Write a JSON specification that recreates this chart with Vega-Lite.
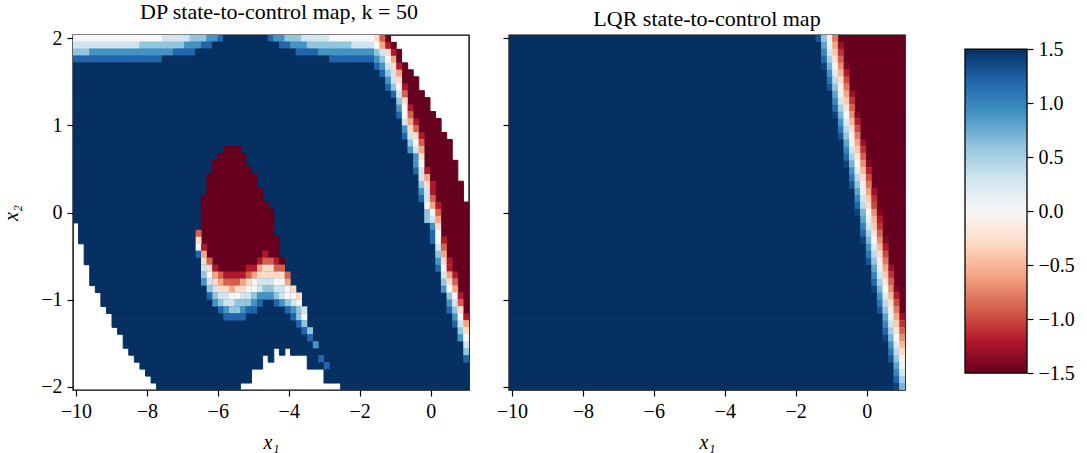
{"$schema":"https://vega.github.io/schema/vega-lite/v6.json","background":"white","padding":{"left":1,"top":0,"right":0,"bottom":0},
"config":{"font":"Liberation Serif","view":{"stroke":"#000","strokeWidth":1.4},"axis":{"grid":false,"domain":false,"tickColor":"#000","tickSize":6,"tickWidth":1.2,"labelColor":"#000","labelFont":"Liberation Serif","labelFontSize":20,"titleFont":"Liberation Serif","titleFontSize":20,"titleFontWeight":"normal","titleFontStyle":"italic","titleColor":"#000","labelPadding":5},"title":{"font":"Liberation Serif","fontSize":22,"fontWeight":"normal","color":"#000","offset":4}},
"datasets":{
"dpSpans":[
{"x":-10.079,"x2":-7.564,"y":2.04,"y2":1.96,"u":0},{"x":-7.564,"x2":-6.779,"y":2.04,"y2":1.96,"u":0.3},{"x":-6.779,"x2":-6.307,"y":2.04,"y2":1.96,"u":0.6},{"x":-6.307,"x2":-5.993,"y":2.04,"y2":1.96,"u":0.9},{"x":-5.993,"x2":-5.836,"y":2.04,"y2":1.96,"u":1.2},{"x":-5.836,"x2":-4.579,"y":2.04,"y2":1.96,"u":1.5},{"x":-4.579,"x2":-4.421,"y":2.04,"y2":1.96,"u":1.2},{"x":-4.421,"x2":-4.107,"y":2.04,"y2":1.96,"u":0.9},{"x":-4.107,"x2":-3.636,"y":2.04,"y2":1.96,"u":0.6},{"x":-3.636,"x2":-2.85,"y":2.04,"y2":1.96,"u":0.3},{"x":-2.85,"x2":-1.593,"y":2.04,"y2":1.96,"u":0},
{"x":-10.079,"x2":-8.193,"y":1.96,"y2":1.88,"u":0.3},{"x":-8.193,"x2":-6.936,"y":1.96,"y2":1.88,"u":0.6},{"x":-6.936,"x2":-6.464,"y":1.96,"y2":1.88,"u":0.9},{"x":-6.464,"x2":-6.15,"y":1.96,"y2":1.88,"u":1.2},{"x":-6.15,"x2":-4.264,"y":1.96,"y2":1.88,"u":1.5},{"x":-4.264,"x2":-3.95,"y":1.96,"y2":1.88,"u":1.2},{"x":-3.95,"x2":-3.479,"y":1.96,"y2":1.88,"u":0.9},{"x":-3.479,"x2":-2.221,"y":1.96,"y2":1.88,"u":0.6},{"x":-2.221,"x2":-1.593,"y":1.96,"y2":1.88,"u":0.3},
{"x":-10.079,"x2":-9.607,"y":1.88,"y2":1.8,"u":0.6},{"x":-9.607,"x2":-7.25,"y":1.88,"y2":1.8,"u":0.9},{"x":-7.25,"x2":-6.621,"y":1.88,"y2":1.8,"u":1.2},{"x":-6.621,"x2":-3.793,"y":1.88,"y2":1.8,"u":1.5},{"x":-3.793,"x2":-3.164,"y":1.88,"y2":1.8,"u":1.2},{"x":-3.164,"x2":-1.593,"y":1.88,"y2":1.8,"u":0.9},
{"x":-10.079,"x2":-7.564,"y":1.8,"y2":1.72,"u":1.2},{"x":-7.564,"x2":-2.85,"y":1.8,"y2":1.72,"u":1.5},{"x":-2.85,"x2":-1.593,"y":1.8,"y2":1.72,"u":1.2},
{"x":-10.079,"x2":-1.593,"y":1.72,"y2":1.64,"u":1.5},{"x":-10.079,"x2":-1.436,"y":1.64,"y2":1.56,"u":1.5},{"x":-10.079,"x2":-1.279,"y":1.56,"y2":1.4,"u":1.5},{"x":-10.079,"x2":-1.121,"y":1.4,"y2":1.32,"u":1.5},{"x":-10.079,"x2":-0.964,"y":1.32,"y2":1.08,"u":1.5},{"x":-10.079,"x2":-0.807,"y":1.08,"y2":0.84,"u":1.5},{"x":-10.079,"x2":-0.65,"y":0.84,"y2":0.68,"u":1.5},{"x":-10.079,"x2":-0.493,"y":0.68,"y2":0.44,"u":1.5},{"x":-10.079,"x2":-0.336,"y":0.44,"y2":0.12,"u":1.5},{"x":-10.079,"x2":-0.179,"y":0.12,"y2":-0.12,"u":1.5},{"x":-9.921,"x2":-0.021,"y":-0.12,"y2":-0.36,"u":1.5},{"x":-9.764,"x2":0.136,"y":-0.36,"y2":-0.6,"u":1.5},{"x":-9.607,"x2":0.136,"y":-0.6,"y2":-0.68,"u":1.5},{"x":-9.607,"x2":0.293,"y":-0.68,"y2":-0.84,"u":1.5},{"x":-9.45,"x2":0.293,"y":-0.84,"y2":-0.92,"u":1.5},{"x":-9.293,"x2":0.45,"y":-0.92,"y2":-1.08,"u":1.5},{"x":-9.136,"x2":0.45,"y":-1.08,"y2":-1.16,"u":1.5},{"x":-8.979,"x2":0.607,"y":-1.16,"y2":-1.32,"u":1.5},{"x":-8.821,"x2":0.764,"y":-1.32,"y2":-1.4,"u":1.5},{"x":-8.664,"x2":0.764,"y":-1.4,"y2":-1.48,"u":1.5},{"x":-8.664,"x2":0.921,"y":-1.48,"y2":-1.56,"u":1.5},
{"x":-8.507,"x2":-4.421,"y":-1.56,"y2":-1.64,"u":1.5},{"x":-4.264,"x2":-4.107,"y":-1.56,"y2":-1.64,"u":1.5},{"x":-3.95,"x2":0.921,"y":-1.56,"y2":-1.64,"u":1.5},
{"x":-8.35,"x2":-4.736,"y":-1.64,"y2":-1.72,"u":1.5},{"x":-4.579,"x2":-4.421,"y":-1.64,"y2":-1.72,"u":1.5},{"x":-3.479,"x2":0.921,"y":-1.64,"y2":-1.72,"u":1.5},
{"x":-8.193,"x2":-4.736,"y":-1.72,"y2":-1.8,"u":1.5},{"x":-3.479,"x2":1.079,"y":-1.72,"y2":-1.8,"u":1.5},
{"x":-8.036,"x2":-5.05,"y":-1.8,"y2":-1.88,"u":1.5},{"x":-3.007,"x2":1.079,"y":-1.8,"y2":-1.88,"u":1.5},
{"x":-7.879,"x2":-5.05,"y":-1.88,"y2":-1.96,"u":1.5},{"x":-3.007,"x2":1.079,"y":-1.88,"y2":-1.96,"u":1.5},
{"x":-7.721,"x2":-5.364,"y":-1.96,"y2":-2.04,"u":1.5},{"x":-2.536,"x2":1.079,"y":-1.96,"y2":-2.04,"u":1.5},
{"x":-0.807,"x2":-0.65,"y":1.72,"y2":1.64,"u":-1.5},{"x":-0.807,"x2":-0.493,"y":1.64,"y2":1.56,"u":-1.5},{"x":-0.807,"x2":-0.336,"y":1.56,"y2":1.48,"u":-1.5},{"x":-0.65,"x2":-0.336,"y":1.48,"y2":1.4,"u":-1.5},{"x":-0.65,"x2":-0.179,"y":1.4,"y2":1.32,"u":-1.5},{"x":-0.65,"x2":-0.021,"y":1.32,"y2":1.24,"u":-1.5},{"x":-0.493,"x2":-0.021,"y":1.24,"y2":1.16,"u":-1.5},{"x":-0.493,"x2":0.136,"y":1.16,"y2":1.08,"u":-1.5},{"x":-0.336,"x2":0.293,"y":1.08,"y2":0.92,"u":-1.5},{"x":-0.179,"x2":0.45,"y":0.92,"y2":0.84,"u":-1.5},{"x":-0.179,"x2":0.607,"y":0.84,"y2":0.6,"u":-1.5},{"x":-0.179,"x2":0.764,"y":0.6,"y2":0.52,"u":-1.5},{"x":-0.021,"x2":0.764,"y":0.52,"y2":0.36,"u":-1.5},{"x":0.136,"x2":0.921,"y":0.36,"y2":0.12,"u":-1.5},{"x":0.293,"x2":1.079,"y":0.12,"y2":-0.28,"u":-1.5},{"x":0.45,"x2":1.079,"y":-0.28,"y2":-0.52,"u":-1.5},{"x":0.607,"x2":1.079,"y":-0.52,"y2":-0.68,"u":-1.5},{"x":0.764,"x2":1.079,"y":-0.68,"y2":-0.92,"u":-1.5},{"x":0.921,"x2":1.079,"y":-0.92,"y2":-1.16,"u":-1.5},
{"x":-5.836,"x2":-5.364,"y":0.76,"y2":0.68,"u":-1.5},{"x":-5.993,"x2":-5.207,"y":0.68,"y2":0.6,"u":-1.5},{"x":-6.15,"x2":-5.207,"y":0.6,"y2":0.52,"u":-1.5},{"x":-6.15,"x2":-5.05,"y":0.52,"y2":0.44,"u":-1.5},{"x":-6.307,"x2":-4.893,"y":0.44,"y2":0.28,"u":-1.5},{"x":-6.307,"x2":-4.736,"y":0.28,"y2":0.2,"u":-1.5},{"x":-6.464,"x2":-4.736,"y":0.2,"y2":0.12,"u":-1.5},{"x":-6.464,"x2":-4.579,"y":0.12,"y2":0.04,"u":-1.5},{"x":-6.464,"x2":-4.421,"y":0.04,"y2":-0.28,"u":-1.5},{"x":-6.464,"x2":-4.264,"y":-0.28,"y2":-0.36,"u":-1.5},{"x":-6.307,"x2":-4.264,"y":-0.36,"y2":-0.52,"u":-1.5},{"x":-6.15,"x2":-4.893,"y":-0.52,"y2":-0.6,"u":-1.5},{"x":-5.993,"x2":-5.207,"y":-0.6,"y2":-0.68,"u":-1.5}
],
"dpCells":[
{"x":-1.51,"y":2,"u":-0.3},{"x":-1.36,"y":2,"u":-0.9},{"x":-1.2,"y":2,"u":-1.5},
{"x":-1.51,"y":1.92,"u":0},{"x":-1.36,"y":1.92,"u":-0.6},{"x":-1.2,"y":1.92,"u":-1.2},{"x":-1.04,"y":1.92,"u":-1.5},
{"x":-1.51,"y":1.84,"u":0.6},{"x":-1.36,"y":1.84,"u":0.3},{"x":-1.2,"y":1.84,"u":-0.3},{"x":-1.04,"y":1.84,"u":-1.2},{"x":-0.89,"y":1.84,"u":-1.5},
{"x":-1.51,"y":1.76,"u":0.9},{"x":-1.36,"y":1.76,"u":0.6},{"x":-1.2,"y":1.76,"u":0},{"x":-1.04,"y":1.76,"u":-0.6},{"x":-0.89,"y":1.76,"u":-1.5},
{"x":-1.51,"y":1.68,"u":1.2},{"x":-1.36,"y":1.68,"u":0.9},{"x":-1.2,"y":1.68,"u":0.3},{"x":-1.04,"y":1.68,"u":-0.3},{"x":-0.89,"y":1.68,"u":-1.2},
{"x":-1.36,"y":1.6,"u":1.2},{"x":-1.2,"y":1.6,"u":0.6},{"x":-1.04,"y":1.6,"u":0.3},{"x":-0.89,"y":1.6,"u":-0.6},
{"x":-1.2,"y":1.52,"u":0.9},{"x":-1.04,"y":1.52,"u":0.3},{"x":-0.89,"y":1.52,"u":-0.3},
{"x":-1.2,"y":1.44,"u":1.2},{"x":-1.04,"y":1.44,"u":0.6},{"x":-0.89,"y":1.44,"u":0},{"x":-0.73,"y":1.44,"u":-1.2},
{"x":-1.04,"y":1.36,"u":1.2},{"x":-0.89,"y":1.36,"u":0.3},{"x":-0.73,"y":1.36,"u":-0.9},
{"x":-0.89,"y":1.28,"u":0.6},{"x":-0.73,"y":1.28,"u":-0.3},
{"x":-0.89,"y":1.2,"u":0.9},{"x":-0.73,"y":1.2,"u":0},{"x":-0.57,"y":1.2,"u":-1.2},
{"x":-0.89,"y":1.12,"u":1.2},{"x":-0.73,"y":1.12,"u":0},{"x":-0.57,"y":1.12,"u":-0.9},
{"x":-0.73,"y":1.04,"u":0.3},{"x":-0.57,"y":1.04,"u":-0.6},{"x":-0.41,"y":1.04,"u":-1.2},
{"x":-0.73,"y":0.96,"u":0.9},{"x":-0.57,"y":0.96,"u":-0.3},{"x":-0.41,"y":0.96,"u":-0.9},
{"x":-0.73,"y":0.88,"u":1.2},{"x":-0.57,"y":0.88,"u":0.3},{"x":-0.41,"y":0.88,"u":-0.3},{"x":-0.26,"y":0.88,"u":-1.2},
{"x":-0.57,"y":0.8,"u":0.6},{"x":-0.41,"y":0.8,"u":0},{"x":-0.26,"y":0.8,"u":-0.9},
{"x":-0.57,"y":0.72,"u":0.9},{"x":-0.41,"y":0.72,"u":0.3},{"x":-0.26,"y":0.72,"u":-0.6},
{"x":-0.41,"y":0.64,"u":0.9},{"x":-0.26,"y":0.64,"u":-0.3},
{"x":-0.41,"y":0.56,"u":0.9},{"x":-0.26,"y":0.56,"u":0},
{"x":-0.41,"y":0.48,"u":1.2},{"x":-0.26,"y":0.48,"u":0.3},{"x":-0.1,"y":0.48,"u":-1.2},
{"x":-0.26,"y":0.4,"u":0.3},{"x":-0.1,"y":0.4,"u":-0.6},
{"x":-0.26,"y":0.32,"u":0.6},{"x":-0.1,"y":0.32,"u":-0.3},{"x":0.06,"y":0.32,"u":-1.2},
{"x":-0.26,"y":0.24,"u":0.9},{"x":-0.1,"y":0.24,"u":0.3},{"x":0.06,"y":0.24,"u":-1.2},
{"x":-0.26,"y":0.16,"u":1.2},{"x":-0.1,"y":0.16,"u":0.3},{"x":0.06,"y":0.16,"u":-0.9},
{"x":-0.1,"y":0.08,"u":0},{"x":0.06,"y":0.08,"u":-0.6},{"x":0.21,"y":0.08,"u":-1.2},
{"x":-0.1,"y":0,"u":0.6},{"x":0.06,"y":0,"u":0},{"x":0.21,"y":0,"u":-0.9},
{"x":-0.1,"y":-0.08,"u":0.6},{"x":0.06,"y":-0.08,"u":0.3},{"x":0.21,"y":-0.08,"u":-0.6},
{"x":0.06,"y":-0.16,"u":0.9},{"x":0.21,"y":-0.16,"u":-0.3},
{"x":0.06,"y":-0.24,"u":1.2},{"x":0.21,"y":-0.24,"u":0},
{"x":0.06,"y":-0.32,"u":1.2},{"x":0.21,"y":-0.32,"u":0},{"x":0.37,"y":-0.32,"u":-1.2},
{"x":0.21,"y":-0.4,"u":0.3},{"x":0.37,"y":-0.4,"u":-0.9},
{"x":0.21,"y":-0.48,"u":0.6},{"x":0.37,"y":-0.48,"u":-0.6},
{"x":0.21,"y":-0.56,"u":0.9},{"x":0.37,"y":-0.56,"u":-0.3},{"x":0.53,"y":-0.56,"u":-1.2},
{"x":0.21,"y":-0.64,"u":1.2},{"x":0.37,"y":-0.64,"u":0},{"x":0.53,"y":-0.64,"u":-1.2},
{"x":0.37,"y":-0.72,"u":0.3},{"x":0.53,"y":-0.72,"u":-0.6},{"x":0.69,"y":-0.72,"u":-1.2},
{"x":0.37,"y":-0.8,"u":0.6},{"x":0.53,"y":-0.8,"u":-0.3},{"x":0.69,"y":-0.8,"u":-0.9},
{"x":0.37,"y":-0.88,"u":0.9},{"x":0.53,"y":-0.88,"u":0},{"x":0.69,"y":-0.88,"u":-0.6},
{"x":0.53,"y":-0.96,"u":0.6},{"x":0.69,"y":-0.96,"u":0},{"x":0.84,"y":-0.96,"u":-1.2},
{"x":0.53,"y":-1.04,"u":0.9},{"x":0.69,"y":-1.04,"u":0.3},{"x":0.84,"y":-1.04,"u":-0.9},
{"x":0.53,"y":-1.12,"u":1.2},{"x":0.69,"y":-1.12,"u":0.6},{"x":0.84,"y":-1.12,"u":-0.3},
{"x":0.69,"y":-1.2,"u":0.9},{"x":0.84,"y":-1.2,"u":0},{"x":1,"y":-1.2,"u":-1.2},
{"x":0.69,"y":-1.28,"u":1.2},{"x":0.84,"y":-1.28,"u":0.3},{"x":1,"y":-1.28,"u":-0.6},
{"x":0.84,"y":-1.36,"u":0.6},{"x":1,"y":-1.36,"u":-0.3},
{"x":0.84,"y":-1.44,"u":0.9},{"x":1,"y":-1.44,"u":0},
{"x":1,"y":-1.52,"u":0.3},{"x":1,"y":-1.6,"u":0.6},{"x":1,"y":-1.68,"u":1.2},
{"x":-6.54,"y":-0.24,"u":-0.9},{"x":-6.54,"y":-0.32,"u":-0.3},{"x":-6.54,"y":-0.4,"u":0},{"x":-6.39,"y":-0.4,"u":-1.2},
{"x":-6.54,"y":-0.48,"u":1.2},{"x":-6.39,"y":-0.48,"u":-0.6},{"x":-4.66,"y":-0.48,"u":-1.2},
{"x":-6.39,"y":-0.56,"u":-0.3},{"x":-6.23,"y":-0.56,"u":-0.9},{"x":-4.81,"y":-0.56,"u":-1.2},{"x":-4.66,"y":-0.56,"u":-0.9},{"x":-4.5,"y":-0.56,"u":-0.9},{"x":-4.34,"y":-0.56,"u":-1.2},{"x":-4.19,"y":-0.56,"u":-1.5},
{"x":-6.39,"y":-0.64,"u":0.3},{"x":-6.23,"y":-0.64,"u":-0.3},{"x":-6.07,"y":-0.64,"u":-1.2},{"x":-5.13,"y":-0.64,"u":-1.2},{"x":-4.97,"y":-0.64,"u":-1.2},{"x":-4.81,"y":-0.64,"u":-0.6},{"x":-4.66,"y":-0.64,"u":-0.3},{"x":-4.5,"y":-0.64,"u":-0.3},{"x":-4.34,"y":-0.64,"u":-0.9},{"x":-4.19,"y":-0.64,"u":-0.9},
{"x":-6.39,"y":-0.72,"u":0.6},{"x":-6.23,"y":-0.72,"u":0},{"x":-6.07,"y":-0.72,"u":-0.6},{"x":-5.91,"y":-0.72,"u":-0.9},{"x":-5.76,"y":-0.72,"u":-1.2},{"x":-5.6,"y":-0.72,"u":-1.2},{"x":-5.44,"y":-0.72,"u":-1.2},{"x":-5.29,"y":-0.72,"u":-1.2},{"x":-5.13,"y":-0.72,"u":-0.9},{"x":-4.97,"y":-0.72,"u":-0.6},{"x":-4.81,"y":-0.72,"u":-0.3},{"x":-4.66,"y":-0.72,"u":-0.3},{"x":-4.5,"y":-0.72,"u":-0.3},{"x":-4.34,"y":-0.72,"u":-0.3},{"x":-4.19,"y":-0.72,"u":-0.3},{"x":-4.03,"y":-0.72,"u":-0.9},
{"x":-6.39,"y":-0.8,"u":0.9},{"x":-6.23,"y":-0.8,"u":0.3},{"x":-6.07,"y":-0.8,"u":-0.3},{"x":-5.91,"y":-0.8,"u":-0.6},{"x":-5.76,"y":-0.8,"u":-0.9},{"x":-5.6,"y":-0.8,"u":-0.9},{"x":-5.44,"y":-0.8,"u":-0.9},{"x":-5.29,"y":-0.8,"u":-0.6},{"x":-5.13,"y":-0.8,"u":-0.3},{"x":-4.97,"y":-0.8,"u":0},{"x":-4.81,"y":-0.8,"u":0.3},{"x":-4.66,"y":-0.8,"u":0.3},{"x":-4.5,"y":-0.8,"u":0.3},{"x":-4.34,"y":-0.8,"u":0},{"x":-4.19,"y":-0.8,"u":0},{"x":-4.03,"y":-0.8,"u":-0.6},
{"x":-6.23,"y":-0.88,"u":0.6},{"x":-6.07,"y":-0.88,"u":0.3},{"x":-5.91,"y":-0.88,"u":-0.3},{"x":-5.76,"y":-0.88,"u":-0.3},{"x":-5.6,"y":-0.88,"u":-0.6},{"x":-5.44,"y":-0.88,"u":-0.3},{"x":-5.29,"y":-0.88,"u":-0.3},{"x":-5.13,"y":-0.88,"u":0},{"x":-4.97,"y":-0.88,"u":0},{"x":-4.81,"y":-0.88,"u":0.3},{"x":-4.66,"y":-0.88,"u":0.6},{"x":-4.5,"y":-0.88,"u":0.6},{"x":-4.34,"y":-0.88,"u":0.3},{"x":-4.19,"y":-0.88,"u":0.3},{"x":-4.03,"y":-0.88,"u":0},{"x":-3.87,"y":-0.88,"u":-0.3},
{"x":-6.23,"y":-0.96,"u":1.2},{"x":-6.07,"y":-0.96,"u":0.6},{"x":-5.91,"y":-0.96,"u":0.3},{"x":-5.76,"y":-0.96,"u":0.3},{"x":-5.6,"y":-0.96,"u":0},{"x":-5.44,"y":-0.96,"u":0},{"x":-5.29,"y":-0.96,"u":0.3},{"x":-5.13,"y":-0.96,"u":0.3},{"x":-4.97,"y":-0.96,"u":0.6},{"x":-4.81,"y":-0.96,"u":0.9},{"x":-4.66,"y":-0.96,"u":0.9},{"x":-4.5,"y":-0.96,"u":0.9},{"x":-4.34,"y":-0.96,"u":0.6},{"x":-4.19,"y":-0.96,"u":0.3},{"x":-4.03,"y":-0.96,"u":0},{"x":-3.87,"y":-0.96,"u":0},{"x":-3.71,"y":-0.96,"u":-0.3},
{"x":-6.07,"y":-1.04,"u":0.9},{"x":-5.91,"y":-1.04,"u":0.6},{"x":-5.76,"y":-1.04,"u":0.3},{"x":-5.6,"y":-1.04,"u":0.3},{"x":-5.44,"y":-1.04,"u":0.6},{"x":-5.29,"y":-1.04,"u":0.6},{"x":-5.13,"y":-1.04,"u":0.6},{"x":-4.97,"y":-1.04,"u":0.9},{"x":-4.81,"y":-1.04,"u":1.2},{"x":-4.34,"y":-1.04,"u":1.2},{"x":-4.19,"y":-1.04,"u":0.9},{"x":-4.03,"y":-1.04,"u":0.6},{"x":-3.87,"y":-1.04,"u":0.3},{"x":-3.71,"y":-1.04,"u":0},
{"x":-5.91,"y":-1.12,"u":1.2},{"x":-5.76,"y":-1.12,"u":0.9},{"x":-5.6,"y":-1.12,"u":0.6},{"x":-5.44,"y":-1.12,"u":0.6},{"x":-5.29,"y":-1.12,"u":0.9},{"x":-5.13,"y":-1.12,"u":1.2},{"x":-4.97,"y":-1.12,"u":1.2},{"x":-4.03,"y":-1.12,"u":1.2},{"x":-3.87,"y":-1.12,"u":0.9},{"x":-3.71,"y":-1.12,"u":0.6},{"x":-3.56,"y":-1.12,"u":0.3},
{"x":-5.76,"y":-1.2,"u":1.2},{"x":-5.6,"y":-1.2,"u":1.2},{"x":-5.44,"y":-1.2,"u":1.2},{"x":-5.29,"y":-1.2,"u":1.2},{"x":-3.87,"y":-1.2,"u":1.2},{"x":-3.71,"y":-1.2,"u":0.6},{"x":-3.56,"y":-1.2,"u":0},
{"x":-3.71,"y":-1.28,"u":1.2},{"x":-3.56,"y":-1.28,"u":0.6},{"x":-3.56,"y":-1.36,"u":1.2},{"x":-3.4,"y":-1.36,"u":0.6},{"x":-3.4,"y":-1.44,"u":1.2},{"x":-3.24,"y":-1.52,"u":0.9},{"x":-3.09,"y":-1.68,"u":1.2},{"x":-2.93,"y":-1.76,"u":1.2}
],
"lqrSpans":[
{"x":-10.079,"x2":-1.436,"y":2.04,"y2":1.96,"u":1.5},{"x":-10.079,"x2":-1.279,"y":1.96,"y2":1.64,"u":1.5},{"x":-10.079,"x2":-1.121,"y":1.64,"y2":1.4,"u":1.5},{"x":-10.079,"x2":-0.964,"y":1.4,"y2":1.08,"u":1.5},{"x":-10.079,"x2":-0.807,"y":1.08,"y2":0.84,"u":1.5},{"x":-10.079,"x2":-0.65,"y":0.84,"y2":0.52,"u":1.5},{"x":-10.079,"x2":-0.493,"y":0.52,"y2":0.28,"u":1.5},{"x":-10.079,"x2":-0.336,"y":0.28,"y2":-0.04,"u":1.5},{"x":-10.079,"x2":-0.179,"y":-0.04,"y2":-0.36,"u":1.5},{"x":-10.079,"x2":-0.021,"y":-0.36,"y2":-0.6,"u":1.5},{"x":-10.079,"x2":0.136,"y":-0.6,"y2":-0.92,"u":1.5},{"x":-10.079,"x2":0.293,"y":-0.92,"y2":-1.16,"u":1.5},{"x":-10.079,"x2":0.45,"y":-1.16,"y2":-1.48,"u":1.5},{"x":-10.079,"x2":0.607,"y":-1.48,"y2":-1.72,"u":1.5},{"x":-10.079,"x2":0.764,"y":-1.72,"y2":-2.04,"u":1.5},
{"x":-0.807,"x2":1.079,"y":2.04,"y2":1.96,"u":-1.5},{"x":-0.65,"x2":1.079,"y":1.96,"y2":1.72,"u":-1.5},{"x":-0.493,"x2":1.079,"y":1.72,"y2":1.4,"u":-1.5},{"x":-0.336,"x2":1.079,"y":1.4,"y2":1.16,"u":-1.5},{"x":-0.179,"x2":1.079,"y":1.16,"y2":0.84,"u":-1.5},{"x":-0.021,"x2":1.079,"y":0.84,"y2":0.6,"u":-1.5},{"x":0.136,"x2":1.079,"y":0.6,"y2":0.28,"u":-1.5},{"x":0.293,"x2":1.079,"y":0.28,"y2":0.04,"u":-1.5},{"x":0.45,"x2":1.079,"y":0.04,"y2":-0.28,"u":-1.5},{"x":0.607,"x2":1.079,"y":-0.28,"y2":-0.6,"u":-1.5},{"x":0.764,"x2":1.079,"y":-0.6,"y2":-0.84,"u":-1.5},{"x":0.921,"x2":1.079,"y":-0.84,"y2":-1.16,"u":-1.5}
],
"lqrCells":[
{"x":-1.36,"y":2,"u":1.3},{"x":-1.2,"y":2,"u":0.6},{"x":-1.04,"y":2,"u":-0.1},{"x":-0.89,"y":2,"u":-0.8},
{"x":-1.2,"y":1.92,"u":0.8},{"x":-1.04,"y":1.92,"u":0.1},{"x":-0.89,"y":1.92,"u":-0.6},{"x":-0.73,"y":1.92,"u":-1.3},
{"x":-1.2,"y":1.84,"u":1},{"x":-1.04,"y":1.84,"u":0.3},{"x":-0.89,"y":1.84,"u":-0.4},{"x":-0.73,"y":1.84,"u":-1.1},
{"x":-1.2,"y":1.76,"u":1.2},{"x":-1.04,"y":1.76,"u":0.5},{"x":-0.89,"y":1.76,"u":-0.2},{"x":-0.73,"y":1.76,"u":-0.9},
{"x":-1.2,"y":1.68,"u":1.4},{"x":-1.04,"y":1.68,"u":0.7},{"x":-0.89,"y":1.68,"u":0},{"x":-0.73,"y":1.68,"u":-0.7},{"x":-0.57,"y":1.68,"u":-1.4},
{"x":-1.04,"y":1.6,"u":0.9},{"x":-0.89,"y":1.6,"u":0.2},{"x":-0.73,"y":1.6,"u":-0.5},{"x":-0.57,"y":1.6,"u":-1.2},
{"x":-1.04,"y":1.52,"u":1.1},{"x":-0.89,"y":1.52,"u":0.4},{"x":-0.73,"y":1.52,"u":-0.3},{"x":-0.57,"y":1.52,"u":-1},
{"x":-1.04,"y":1.44,"u":1.3},{"x":-0.89,"y":1.44,"u":0.6},{"x":-0.73,"y":1.44,"u":-0.1},{"x":-0.57,"y":1.44,"u":-0.8},
{"x":-0.89,"y":1.36,"u":0.8},{"x":-0.73,"y":1.36,"u":0.1},{"x":-0.57,"y":1.36,"u":-0.6},{"x":-0.41,"y":1.36,"u":-1.3},
{"x":-0.89,"y":1.28,"u":1},{"x":-0.73,"y":1.28,"u":0.3},{"x":-0.57,"y":1.28,"u":-0.4},{"x":-0.41,"y":1.28,"u":-1.1},
{"x":-0.89,"y":1.2,"u":1.2},{"x":-0.73,"y":1.2,"u":0.5},{"x":-0.57,"y":1.2,"u":-0.2},{"x":-0.41,"y":1.2,"u":-0.9},
{"x":-0.89,"y":1.12,"u":1.4},{"x":-0.73,"y":1.12,"u":0.7},{"x":-0.57,"y":1.12,"u":0},{"x":-0.41,"y":1.12,"u":-0.7},{"x":-0.26,"y":1.12,"u":-1.4},
{"x":-0.73,"y":1.04,"u":0.9},{"x":-0.57,"y":1.04,"u":0.2},{"x":-0.41,"y":1.04,"u":-0.5},{"x":-0.26,"y":1.04,"u":-1.2},
{"x":-0.73,"y":0.96,"u":1.1},{"x":-0.57,"y":0.96,"u":0.4},{"x":-0.41,"y":0.96,"u":-0.3},{"x":-0.26,"y":0.96,"u":-1},
{"x":-0.73,"y":0.88,"u":1.3},{"x":-0.57,"y":0.88,"u":0.6},{"x":-0.41,"y":0.88,"u":-0.1},{"x":-0.26,"y":0.88,"u":-0.8},
{"x":-0.57,"y":0.8,"u":0.8},{"x":-0.41,"y":0.8,"u":0.1},{"x":-0.26,"y":0.8,"u":-0.6},{"x":-0.1,"y":0.8,"u":-1.3},
{"x":-0.57,"y":0.72,"u":1},{"x":-0.41,"y":0.72,"u":0.3},{"x":-0.26,"y":0.72,"u":-0.4},{"x":-0.1,"y":0.72,"u":-1.1},
{"x":-0.57,"y":0.64,"u":1.2},{"x":-0.41,"y":0.64,"u":0.5},{"x":-0.26,"y":0.64,"u":-0.2},{"x":-0.1,"y":0.64,"u":-0.9},
{"x":-0.57,"y":0.56,"u":1.4},{"x":-0.41,"y":0.56,"u":0.7},{"x":-0.26,"y":0.56,"u":0},{"x":-0.1,"y":0.56,"u":-0.7},{"x":0.06,"y":0.56,"u":-1.4},
{"x":-0.41,"y":0.48,"u":0.9},{"x":-0.26,"y":0.48,"u":0.2},{"x":-0.1,"y":0.48,"u":-0.5},{"x":0.06,"y":0.48,"u":-1.2},
{"x":-0.41,"y":0.4,"u":1.1},{"x":-0.26,"y":0.4,"u":0.4},{"x":-0.1,"y":0.4,"u":-0.3},{"x":0.06,"y":0.4,"u":-1},
{"x":-0.41,"y":0.32,"u":1.3},{"x":-0.26,"y":0.32,"u":0.6},{"x":-0.1,"y":0.32,"u":-0.1},{"x":0.06,"y":0.32,"u":-0.8},
{"x":-0.26,"y":0.24,"u":0.8},{"x":-0.1,"y":0.24,"u":0.1},{"x":0.06,"y":0.24,"u":-0.6},{"x":0.21,"y":0.24,"u":-1.3},
{"x":-0.26,"y":0.16,"u":1},{"x":-0.1,"y":0.16,"u":0.3},{"x":0.06,"y":0.16,"u":-0.4},{"x":0.21,"y":0.16,"u":-1.1},
{"x":-0.26,"y":0.08,"u":1.2},{"x":-0.1,"y":0.08,"u":0.4},{"x":0.06,"y":0.08,"u":-0.3},{"x":0.21,"y":0.08,"u":-1},
{"x":-0.26,"y":0,"u":1.4},{"x":-0.1,"y":0,"u":0.7},{"x":0.06,"y":0,"u":0},{"x":0.21,"y":0,"u":-0.7},{"x":0.37,"y":0,"u":-1.4},
{"x":-0.1,"y":-0.08,"u":0.8},{"x":0.06,"y":-0.08,"u":0.1},{"x":0.21,"y":-0.08,"u":-0.5},{"x":0.37,"y":-0.08,"u":-1.2},
{"x":-0.1,"y":-0.16,"u":1},{"x":0.06,"y":-0.16,"u":0.3},{"x":0.21,"y":-0.16,"u":-0.4},{"x":0.37,"y":-0.16,"u":-1.1},
{"x":-0.1,"y":-0.24,"u":1.2},{"x":0.06,"y":-0.24,"u":0.5},{"x":0.21,"y":-0.24,"u":-0.2},{"x":0.37,"y":-0.24,"u":-0.9},
{"x":-0.1,"y":-0.32,"u":1.4},{"x":0.06,"y":-0.32,"u":0.7},{"x":0.21,"y":-0.32,"u":0},{"x":0.37,"y":-0.32,"u":-0.7},{"x":0.53,"y":-0.32,"u":-1.4},
{"x":0.06,"y":-0.4,"u":0.9},{"x":0.21,"y":-0.4,"u":0.2},{"x":0.37,"y":-0.4,"u":-0.5},{"x":0.53,"y":-0.4,"u":-1.2},
{"x":0.06,"y":-0.48,"u":1.1},{"x":0.21,"y":-0.48,"u":0.4},{"x":0.37,"y":-0.48,"u":-0.3},{"x":0.53,"y":-0.48,"u":-1},
{"x":0.06,"y":-0.56,"u":1.3},{"x":0.21,"y":-0.56,"u":0.6},{"x":0.37,"y":-0.56,"u":-0.1},{"x":0.53,"y":-0.56,"u":-0.8},
{"x":0.21,"y":-0.64,"u":0.8},{"x":0.37,"y":-0.64,"u":0.1},{"x":0.53,"y":-0.64,"u":-0.6},{"x":0.69,"y":-0.64,"u":-1.3},
{"x":0.21,"y":-0.72,"u":1},{"x":0.37,"y":-0.72,"u":0.3},{"x":0.53,"y":-0.72,"u":-0.4},{"x":0.69,"y":-0.72,"u":-1.1},
{"x":0.21,"y":-0.8,"u":1.2},{"x":0.37,"y":-0.8,"u":0.5},{"x":0.53,"y":-0.8,"u":-0.2},{"x":0.69,"y":-0.8,"u":-0.9},
{"x":0.21,"y":-0.88,"u":1.4},{"x":0.37,"y":-0.88,"u":0.7},{"x":0.53,"y":-0.88,"u":0},{"x":0.69,"y":-0.88,"u":-0.7},{"x":0.84,"y":-0.88,"u":-1.4},
{"x":0.37,"y":-0.96,"u":0.9},{"x":0.53,"y":-0.96,"u":0.2},{"x":0.69,"y":-0.96,"u":-0.5},{"x":0.84,"y":-0.96,"u":-1.2},
{"x":0.37,"y":-1.04,"u":1.1},{"x":0.53,"y":-1.04,"u":0.4},{"x":0.69,"y":-1.04,"u":-0.3},{"x":0.84,"y":-1.04,"u":-1},
{"x":0.37,"y":-1.12,"u":1.3},{"x":0.53,"y":-1.12,"u":0.6},{"x":0.69,"y":-1.12,"u":-0.1},{"x":0.84,"y":-1.12,"u":-0.8},
{"x":0.53,"y":-1.2,"u":0.8},{"x":0.69,"y":-1.2,"u":0.1},{"x":0.84,"y":-1.2,"u":-0.6},{"x":1,"y":-1.2,"u":-1.3},
{"x":0.53,"y":-1.28,"u":1},{"x":0.69,"y":-1.28,"u":0.3},{"x":0.84,"y":-1.28,"u":-0.4},{"x":1,"y":-1.28,"u":-1.1},
{"x":0.53,"y":-1.36,"u":1.2},{"x":0.69,"y":-1.36,"u":0.5},{"x":0.84,"y":-1.36,"u":-0.2},{"x":1,"y":-1.36,"u":-0.9},
{"x":0.53,"y":-1.44,"u":1.4},{"x":0.69,"y":-1.44,"u":0.7},{"x":0.84,"y":-1.44,"u":0},{"x":1,"y":-1.44,"u":-0.7},
{"x":0.69,"y":-1.52,"u":0.9},{"x":0.84,"y":-1.52,"u":0.2},{"x":1,"y":-1.52,"u":-0.5},
{"x":0.69,"y":-1.6,"u":1.1},{"x":0.84,"y":-1.6,"u":0.4},{"x":1,"y":-1.6,"u":-0.3},
{"x":0.69,"y":-1.68,"u":1.3},{"x":0.84,"y":-1.68,"u":0.6},{"x":1,"y":-1.68,"u":-0.1},
{"x":0.84,"y":-1.76,"u":0.8},{"x":1,"y":-1.76,"u":0.1},
{"x":0.84,"y":-1.84,"u":1},{"x":1,"y":-1.84,"u":0.3},
{"x":0.84,"y":-1.92,"u":1.2},{"x":1,"y":-1.92,"u":0.5},
{"x":0.84,"y":-2,"u":1.4},{"x":1,"y":-2,"u":0.7}
],
"frame":[{"y":-1.5,"y2":1.5}]
},
"spacing":58,
"hconcat":[
{"spacing":25,"hconcat":[
{"title":{"text":"DP state-to-control map, k = 50","dx":8},"width":396,"height":355,"layer":[
{"data":{"name":"dpSpans"},"mark":{"type":"rect","clip":true,"strokeWidth":1},"encoding":{
"x":{"field":"x","type":"quantitative","scale":{"domain":[-10.0786,1.0786],"nice":false,"zero":false},"axis":{"values":[-10,-8,-6,-4,-2,0],"title":"x₁","titlePadding":11}},"x2":{"field":"x2"},
"y":{"field":"y","type":"quantitative","scale":{"domain":[-2.04,2.04],"nice":false,"zero":false},"axis":{"values":[-2,-1,0,1,2],"format":"d","title":"x₂","titlePadding":19}},"y2":{"field":"y2"},
"color":{"field":"u","type":"quantitative","legend":null,"scale":{"domain":[-1.5,-1.2,-0.9,-0.6,-0.3,0,0.3,0.6,0.9,1.2,1.5],"range":["#67001f","#b2182b","#d6604d","#f4a582","#fddbc7","#f7f7f7","#d1e5f0","#92c5de","#4393c3","#2166ac","#053061"],"interpolate":"rgb"}},
"stroke":{"field":"u","type":"quantitative","legend":null,"scale":{"domain":[-1.5,-1.2,-0.9,-0.6,-0.3,0,0.3,0.6,0.9,1.2,1.5],"range":["#67001f","#b2182b","#d6604d","#f4a582","#fddbc7","#f7f7f7","#d1e5f0","#92c5de","#4393c3","#2166ac","#053061"],"interpolate":"rgb"}}}},
{"data":{"name":"dpCells"},"mark":{"type":"rect","clip":true,"width":5.9,"height":7.2},"encoding":{
"x":{"field":"x","type":"quantitative"},"y":{"field":"y","type":"quantitative"},
"color":{"field":"u","type":"quantitative","legend":null,"scale":{"domain":[-1.5,-1.2,-0.9,-0.6,-0.3,0,0.3,0.6,0.9,1.2,1.5],"range":["#67001f","#b2182b","#d6604d","#f4a582","#fddbc7","#f7f7f7","#d1e5f0","#92c5de","#4393c3","#2166ac","#053061"],"interpolate":"rgb"}}}}
]},
{"title":"LQR state-to-control map","width":396,"height":355,"layer":[
{"data":{"name":"lqrSpans"},"mark":{"type":"rect","clip":true,"strokeWidth":1},"encoding":{
"x":{"field":"x","type":"quantitative","scale":{"domain":[-10.0786,1.0786],"nice":false,"zero":false},"axis":{"values":[-10,-8,-6,-4,-2,0],"title":"x₁","titlePadding":11}},"x2":{"field":"x2"},
"y":{"field":"y","type":"quantitative","scale":{"domain":[-2.04,2.04],"nice":false,"zero":false},"axis":{"values":[-2,-1,0,1,2],"title":null,"labels":false}},"y2":{"field":"y2"},
"color":{"field":"u","type":"quantitative","legend":null,"scale":{"domain":[-1.5,-1.2,-0.9,-0.6,-0.3,0,0.3,0.6,0.9,1.2,1.5],"range":["#67001f","#b2182b","#d6604d","#f4a582","#fddbc7","#f7f7f7","#d1e5f0","#92c5de","#4393c3","#2166ac","#053061"],"interpolate":"rgb"}},
"stroke":{"field":"u","type":"quantitative","legend":null,"scale":{"domain":[-1.5,-1.2,-0.9,-0.6,-0.3,0,0.3,0.6,0.9,1.2,1.5],"range":["#67001f","#b2182b","#d6604d","#f4a582","#fddbc7","#f7f7f7","#d1e5f0","#92c5de","#4393c3","#2166ac","#053061"],"interpolate":"rgb"}}}},
{"data":{"name":"lqrCells"},"mark":{"type":"rect","clip":true,"width":5.9,"height":7.2},"encoding":{
"x":{"field":"x","type":"quantitative"},"y":{"field":"y","type":"quantitative"},
"color":{"field":"u","type":"quantitative","legend":null,"scale":{"domain":[-1.5,-1.2,-0.9,-0.6,-0.3,0,0.3,0.6,0.9,1.2,1.5],"range":["#67001f","#b2182b","#d6604d","#f4a582","#fddbc7","#f7f7f7","#d1e5f0","#92c5de","#4393c3","#2166ac","#053061"],"interpolate":"rgb"}}}}
]}
]},
{"width":62,"height":355,"view":{"stroke":null},"data":{"name":"frame"},"mark":{"type":"rect","stroke":"#000","strokeWidth":1.3,"fill":{"gradient":"linear","x1":0,"y1":1,"x2":0,"y2":0,"stops":[{"offset":0,"color":"#67001f"},{"offset":0.1,"color":"#b2182b"},{"offset":0.2,"color":"#d6604d"},{"offset":0.3,"color":"#f4a582"},{"offset":0.4,"color":"#fddbc7"},{"offset":0.5,"color":"#f7f7f7"},{"offset":0.6,"color":"#d1e5f0"},{"offset":0.7,"color":"#92c5de"},{"offset":0.8,"color":"#4393c3"},{"offset":0.9,"color":"#2166ac"},{"offset":1,"color":"#053061"}]}},"encoding":{
"y":{"field":"y","type":"quantitative","scale":{"domain":[-1.657,1.63],"nice":false,"zero":false},"axis":{"orient":"right","values":[-1.5,-1,-0.5,0,0.5,1,1.5],"format":".1f","title":null}},"y2":{"field":"y2"}}}
]}
